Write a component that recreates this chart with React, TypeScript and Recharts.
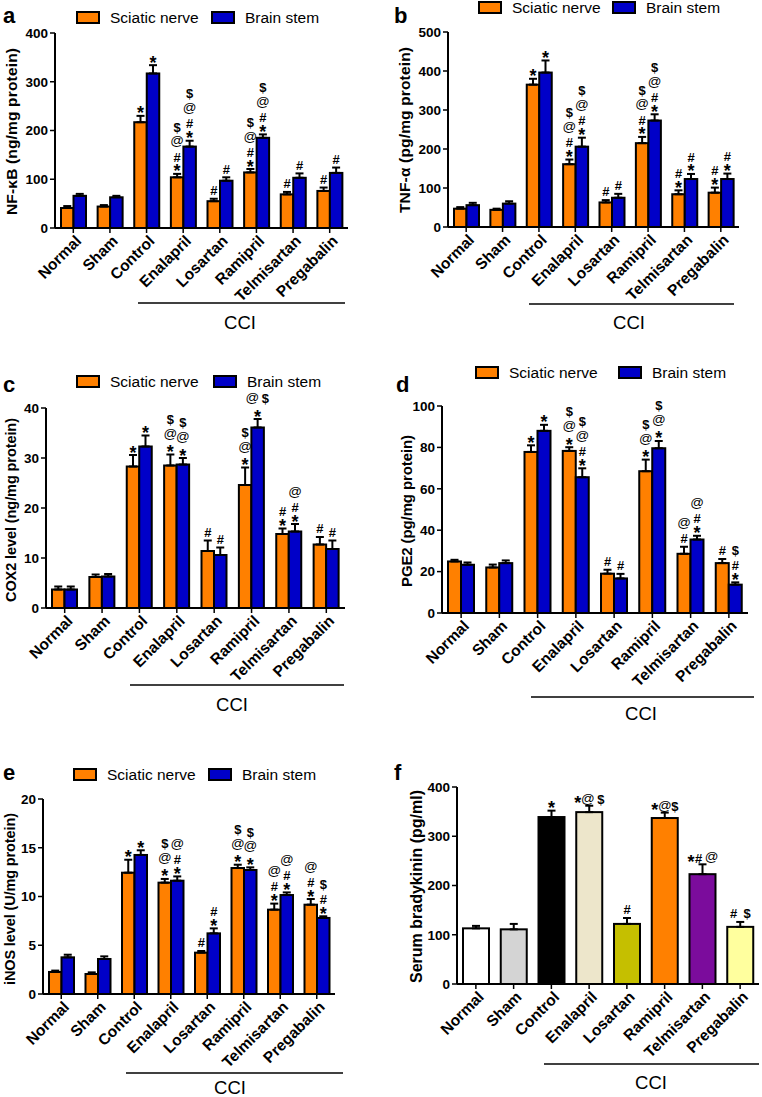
import React from 'react';
import { BarChart, Bar, XAxis, YAxis, ErrorBar } from 'recharts';

const groups = ['Normal', 'Sham', 'Control', 'Enalapril', 'Losartan', 'Ramipril', 'Telmisartan', 'Pregabalin'];
const seriesNames = ['Sciatic nerve', 'Brain stem'];
const panelLetters = ['a', 'b', 'c', 'd', 'e', 'f'];
const yLabels = [
  'NF-κB (ng/mg protein)',
  'TNF-α (pg/mg protein)',
  'COX2 level (ng/mg protein)',
  'PGE2 (pg/mg protein)',
  'iNOS level (U/mg protein)',
  'Serum bradykinin (pg/ml)',
];

// marks: lines from bottom to top, separated by "|"
// a - NF-kB
const nfkbSciatic = [41, 44, 217, 104, 55, 114, 69, 76];
const nfkbSciaticErr = [4, 3, 13, 7, 5, 7, 5, 7];
const nfkbSciaticMarks = ['', '', '*', '*|#|@|$', '#', '*|#|@|$', '#', '#'];
const nfkbBrain = [66, 63, 317, 167, 97, 185, 103, 113];
const nfkbBrainErr = [4, 3, 17, 12, 7, 7, 9, 11];
const nfkbBrainMarks = ['', '', '*', '*|#|@|$', '#', '*|#|@|$', '#', '#'];

// b - TNF-alpha
const tnfSciatic = [47, 44, 365, 161, 63, 215, 84, 88];
const tnfSciaticErr = [4, 3, 15, 12, 6, 16, 10, 13];
const tnfSciaticMarks = ['', '', '*', '*|#|@|$', '#', '*|#|@|$', '*|#', '*|#'];
const tnfBrain = [56, 60, 396, 206, 75, 273, 123, 123];
const tnfBrainErr = [6, 6, 31, 23, 10, 16, 13, 14];
const tnfBrainMarks = ['', '', '*', '*|#|@|$', '#', '*|#|@|$', '*|#', '*|#'];

// c - COX2
const coxSciatic = [3.7, 6.2, 28.3, 28.5, 11.4, 24.6, 14.8, 12.7];
const coxSciaticErr = [0.6, 0.5, 2.3, 2.2, 2.1, 3.5, 1.1, 1.5];
const coxSciaticMarks = ['', '', '*', '*|@|$', '#', '*|@|$', '*|#', '#'];
const coxBrain = [3.7, 6.3, 32.3, 28.7, 10.6, 36.1, 15.3, 11.8];
const coxBrainErr = [0.6, 0.5, 2.2, 1.3, 1.5, 1.7, 1.5, 1.7];
const coxBrainMarks = ['', '', '*', '*|@|$', '#', '*|@ $', '*|#|@', '#'];

// d - PGE2
const pgeSciatic = [24.9, 22.0, 77.8, 78.3, 19.0, 68.5, 28.6, 24.1];
const pgeSciaticErr = [0.8, 1.4, 3.2, 1.8, 1.9, 5.6, 3.4, 2.0];
const pgeSciaticMarks = ['', '', '*', '*|@|$', '#', '*|@|$', '#|@', '#'];
const pgeBrain = [23.3, 24.1, 88.0, 65.6, 16.7, 79.6, 35.5, 13.7];
const pgeBrainErr = [1.1, 1.3, 2.9, 4.3, 2.2, 3.5, 1.8, 1.1];
const pgeBrainMarks = ['', '', '*', '*|#|@|$', '#', '*|@|$', '*|#|@', '*|#|$'];

// e - iNOS
const inosSciatic = [2.26, 2.05, 12.44, 11.42, 4.24, 12.92, 8.65, 9.16];
const inosSciaticErr = [0.14, 0.17, 1.33, 0.38, 0.17, 0.34, 0.62, 0.58];
const inosSciaticMarks = ['', '', '*', '*|@|$', '#', '*|@|$', '*|#|@', '*|#|@'];
const inosBrain = [3.76, 3.59, 14.26, 11.62, 6.22, 12.72, 10.15, 7.8];
const inosBrainErr = [0.27, 0.27, 0.48, 0.44, 0.51, 0.27, 0.27, 0.17];
const inosBrainMarks = ['', '', '*', '*|#|@', '*|#', '*|@|$', '*|#|@', '*|#|$'];

// f - serum bradykinin
const bkValues = [113, 111, 339, 349, 122, 337, 223, 116];
const bkErr = [5, 11, 13, 13, 12, 11, 20, 10];
const bkMarks = ['', '', '*', '*@ $', '#', '*@$', '*# @', '#  $'];
const bkColors = ['#FFFFFF', '#D4D4D4', '#000000', '#EDE6CB', '#C5BF00', '#FF8000', '#7B0C9C', '#FFFF9E'];

const ORANGE = '#FF8000';
const BLUE = '#0000C8';
const FONT = '"Liberation Sans", Arial, Helvetica, sans-serif';

type Series = { vals: number[]; errs: number[]; marks: string[]; color?: string; colors?: string[] };

type PanelCfg = {
  left: number; top: number; width: number; height: number;
  plotLeft: number; plotTop: number; plotRight: number; plotBottom: number;
  yMax: number; yTicks: number[]; barSize: number;
  series: Series[];
  letter: [number, number];
  legend?: [number, number, number]; // orange x, blue x, y
  yLabel: [number, number, number, number]; // cx, cy, font size, length
  cci: [number, number, number, number, number]; // x1, x2, y, textX, textY
};

const panels: PanelCfg[] = [
  {
    left: 0, top: 0, width: 381, height: 320,
    plotLeft: 55, plotTop: 33, plotRight: 348, plotBottom: 228,
    yMax: 400, yTicks: [0, 100, 200, 300, 400], barSize: 12.5,
    series: [
      { vals: nfkbSciatic, errs: nfkbSciaticErr, marks: nfkbSciaticMarks, color: ORANGE },
      { vals: nfkbBrain, errs: nfkbBrainErr, marks: nfkbBrainMarks, color: BLUE },
    ],
    letter: [3, 23], legend: [77, 212, 12], yLabel: [11.5, 131.5, 15.5, 167], cci: [138, 345, 303, 240, 329],
  },
  {
    left: 381, top: 0, width: 381, height: 320,
    plotLeft: 448, plotTop: 32, plotRight: 739, plotBottom: 227,
    yMax: 500, yTicks: [0, 100, 200, 300, 400, 500], barSize: 12.5,
    series: [
      { vals: tnfSciatic, errs: tnfSciaticErr, marks: tnfSciaticMarks, color: ORANGE },
      { vals: tnfBrain, errs: tnfBrainErr, marks: tnfBrainMarks, color: BLUE },
    ],
    letter: [394, 23], legend: [479, 613, 2], yLabel: [404, 130, 15.5, 166], cci: [529, 734, 304, 629, 329],
  },
  {
    left: 0, top: 360, width: 381, height: 345,
    plotLeft: 46, plotTop: 408, plotRight: 345, plotBottom: 608,
    yMax: 40, yTicks: [0, 10, 20, 30, 40], barSize: 12.5,
    series: [
      { vals: coxSciatic, errs: coxSciaticErr, marks: coxSciaticMarks, color: ORANGE },
      { vals: coxBrain, errs: coxBrainErr, marks: coxBrainMarks, color: BLUE },
    ],
    letter: [3, 392], legend: [77, 214, 376], yLabel: [11, 510, 14.5, 184], cci: [130, 344, 685, 232, 711],
  },
  {
    left: 381, top: 360, width: 381, height: 345,
    plotLeft: 442, plotTop: 406, plotRight: 748, plotBottom: 613,
    yMax: 100, yTicks: [0, 20, 40, 60, 80, 100], barSize: 13,
    series: [
      { vals: pgeSciatic, errs: pgeSciaticErr, marks: pgeSciaticMarks, color: ORANGE },
      { vals: pgeBrain, errs: pgeBrainErr, marks: pgeBrainMarks, color: BLUE },
    ],
    letter: [396, 392], legend: [476, 619, 367], yLabel: [406, 511, 15, 152], cci: [531, 754, 697, 641, 720],
  },
  {
    left: 0, top: 730, width: 381, height: 360,
    plotLeft: 43, plotTop: 799, plotRight: 335, plotBottom: 994,
    yMax: 20, yTicks: [0, 5, 10, 15, 20], barSize: 12.5,
    series: [
      { vals: inosSciatic, errs: inosSciaticErr, marks: inosSciaticMarks, color: ORANGE },
      { vals: inosBrain, errs: inosBrainErr, marks: inosBrainMarks, color: BLUE },
    ],
    letter: [3, 780], legend: [74, 209, 769], yLabel: [10, 899, 14.5, 172], cci: [126, 343, 1073, 230, 1094],
  },
  {
    left: 381, top: 730, width: 381, height: 350,
    plotLeft: 457, plotTop: 787, plotRight: 759, plotBottom: 984,
    yMax: 400, yTicks: [0, 100, 200, 300, 400], barSize: 26,
    series: [{ vals: bkValues, errs: bkErr, marks: bkMarks, colors: bkColors }],
    letter: [394, 780], yLabel: [416.5, 886.5, 16, 193], cci: [544, 759, 1064, 651, 1089],
  },
];

// significance symbols, each glyph placed on its own
const charW: Record<string, number> = { '*': 7.5, '#': 7.5, $: 7.5, '@': 12.5, ' ': 3 };
const charStyle = (ch: string) =>
  ch === '*'
    ? { size: 18, dy: 10, weight: 'bold' }
    : ch === '@'
    ? { size: 13.5, dy: 3.5, weight: 'normal' }
    : { size: 13, dy: 4.7, weight: 'bold' };

const Marks = ({ cx, errTop, marks }: { cx: number; errTop: number; marks: string }) => {
  if (!marks) return null;
  const lines = marks.split('|');
  let c = errTop - (lines[0].startsWith('*') ? 6.5 : 8.5);
  const out: React.ReactNode[] = [];
  lines.forEach((ln, k) => {
    if (k > 0) {
      const prev = lines[k - 1];
      c -= prev === '*' && ln.startsWith('#') ? 10.5 : prev === '*' ? 14 : 15;
    }
    const chars = ln.split('');
    const total = chars.reduce((s, ch) => s + (charW[ch] ?? 7.5), 0);
    let px = cx - total / 2;
    chars.forEach((ch, j) => {
      const w = charW[ch] ?? 7.5;
      if (ch !== ' ') {
        const st = charStyle(ch);
        out.push(
          <text key={k + '-' + j} x={px + w / 2} y={c + st.dy} textAnchor="middle" fontSize={st.size} fontWeight={st.weight} fill="#000">
            {ch}
          </text>
        );
      }
      px += w;
    });
  });
  return <g>{out}</g>;
};

const makeShape = (s: Series) => (props: any) => {
  const { x, y, width, height } = props;
  let index = props.index;
  if (index === undefined && props.payload) index = groups.indexOf(props.payload.name);
  const v = s.vals[index];
  const fill = s.colors ? s.colors[index] : s.color;
  const errTop = v > 0 ? y - (s.errs[index] * height) / v : y;
  return (
    <g>
      <rect x={x} y={y} width={width} height={height} fill={fill} stroke="#000" strokeWidth={2} />
      <Marks cx={x + width / 2} errTop={errTop} marks={s.marks[index]} />
    </g>
  );
};

const XTick = (props: any) => {
  const { x, y, payload } = props;
  const tx = x + 5;
  const ty = y + 3;
  return (
    <text
      x={tx}
      y={ty}
      transform={`rotate(-45 ${tx} ${ty})`}
      textAnchor="end"
      dominantBaseline="central"
      fontSize={15.5}
      fontWeight="bold"
      fill="#000"
    >
      {payload.value}
    </text>
  );
};

function Panel({ cfg }: { cfg: PanelCfg }) {
  const data = groups.map((g, i) => {
    const row: any = { name: g };
    cfg.series.forEach((s, k) => {
      row['v' + k] = s.vals[i];
      row['e' + k] = [0, s.errs[i]];
    });
    return row;
  });
  return (
    <div style={{ position: 'absolute', left: cfg.left, top: cfg.top }}>
      <BarChart
        width={cfg.width}
        height={cfg.height}
        data={data}
        barGap={0}
        margin={{
          top: cfg.plotTop - cfg.top,
          right: cfg.left + cfg.width - cfg.plotRight,
          bottom: 0,
          left: 0,
        }}
      >
        <XAxis
          dataKey="name"
          interval={0}
          height={cfg.top + cfg.height - cfg.plotBottom}
          tick={(p: any) => <XTick {...p} />}
          tickSize={5}
          axisLine={{ stroke: '#000', strokeWidth: 2 }}
          tickLine={{ stroke: '#000', strokeWidth: 1.5 }}
        />
        <YAxis
          type="number"
          width={cfg.plotLeft - cfg.left}
          domain={[0, cfg.yMax]}
          ticks={cfg.yTicks}
          interval={0}
          tickSize={5}
          tick={{ fill: '#000', fontSize: 13.5, fontWeight: 'bold' }}
          axisLine={{ stroke: '#000', strokeWidth: 2 }}
          tickLine={{ stroke: '#000', strokeWidth: 1.5 }}
        />
        {cfg.series.map((s, k) => (
          <Bar key={k} dataKey={'v' + k} barSize={cfg.barSize} isAnimationActive={false} shape={makeShape(s)}>
            <ErrorBar dataKey={'e' + k} direction="y" width={4} strokeWidth={2} stroke="#000" />
          </Bar>
        ))}
      </BarChart>
    </div>
  );
}

export default function App() {
  return (
    <div style={{ position: 'absolute', left: 0, top: 0, width: 762, height: 1097, overflow: 'hidden', background: '#fff', fontFamily: FONT }}>
      {panels.map((cfg, i) => (
        <Panel key={i} cfg={cfg} />
      ))}
      <svg
        width={762}
        height={1097}
        style={{ position: 'absolute', left: 0, top: 0, pointerEvents: 'none', fontFamily: FONT }}
      >
        {panels.map((cfg, i) => (
          <g key={i}>
            <text x={cfg.letter[0]} y={cfg.letter[1]} fontSize={22} fontWeight="bold" fill="#000">
              {panelLetters[i]}
            </text>
            {cfg.legend &&
              [ORANGE, BLUE].map((c, k) => (
                <g key={k}>
                  <rect x={cfg.legend![k]} y={cfg.legend![2]} width={22} height={11} fill={c} stroke="#000" strokeWidth={2} />
                  <text x={cfg.legend![k] + 33} y={cfg.legend![2] + 11} fontSize={15.5} fill="#000">
                    {seriesNames[k]}
                  </text>
                </g>
              ))}
            <text
              transform={`translate(${cfg.yLabel[0]},${cfg.yLabel[1]}) rotate(-90)`}
              textAnchor="middle"
              dominantBaseline="central"
              fontSize={cfg.yLabel[2]}
              textLength={cfg.yLabel[3]}
              lengthAdjust="spacing"
              fontWeight="bold"
              fill="#000"
            >
              {yLabels[i]}
            </text>
            <line x1={cfg.cci[0]} x2={cfg.cci[1]} y1={cfg.cci[2]} y2={cfg.cci[2]} stroke="#000" strokeWidth={1.5} />
            <text x={cfg.cci[3]} y={cfg.cci[4]} textAnchor="middle" fontSize={18.5} fill="#000">
              CCI
            </text>
          </g>
        ))}
      </svg>
    </div>
  );
}
